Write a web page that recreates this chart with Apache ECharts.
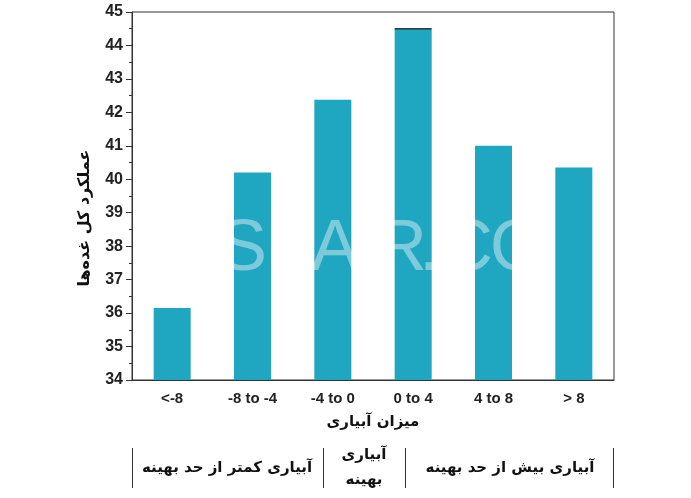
<!DOCTYPE html>
<html>
<head>
<meta charset="utf-8">
<script src="https://cdn.jsdelivr.net/npm/echarts@6/dist/echarts.min.js"></script>
<style>
  html, body { margin: 0; padding: 0; background: #fff; }
  #chart { width: 691px; height: 498px; }
</style>
</head>
<body>
<div id="chart"></div>
<script>
// data
var categories = ['<-8', '-8 to -4', '-4 to 0', '0 to 4', '4 to 8', '> 8'];
var yieldValues = [36.15, 40.2, 42.38, 44.5, 41.0, 40.35];
var groupLabels = ['آبیاری کمتر از حد بهینه', 'آبیاری\nبهینه', 'آبیاری بیش از حد بهینه'];
var capIndex = 3; // thin dark cap drawn on top of the tallest bar

var latin = 'Liberation Sans, Arial, sans-serif';
var persian = 'DejaVu Sans, Noto Sans, sans-serif';

var myChart = echarts.init(document.getElementById('chart'));

var wm = function (ch, x) {
  return {
    type: 'text', x: x, y: 250, z: 100,
    style: { text: ch, font: '72px Liberation Sans', fill: 'rgba(255,255,255,0.42)', textAlign: 'center', textVerticalAlign: 'middle' }
  };
};

var option = {
  animation: false,
  backgroundColor: '#fff',
  grid: {
    left: 132,
    right: 77,
    top: 12,
    bottom: 118,
    show: true,
    borderColor: '#333',
    borderWidth: 1
  },
  xAxis: {
    type: 'category',
    data: categories,
    name: 'میزان آبیاری',
    nameLocation: 'middle',
    nameGap: 35,
    nameTextStyle: { fontFamily: persian, fontWeight: 'bold', fontSize: 15, color: '#111' },
    axisLine: { lineStyle: { color: '#333' } },
    axisTick: { show: false },
    axisLabel: { margin: 11, fontFamily: latin, fontWeight: 'bold', fontSize: 15, color: '#222' }
  },
  yAxis: {
    type: 'value',
    min: 34,
    max: 45,
    interval: 1,
    axisLine: { show: true, lineStyle: { color: '#333' } },
    axisTick: { show: true, length: 6, lineStyle: { color: '#333' } },
    minorTick: { show: true, splitNumber: 2, length: 3, lineStyle: { color: '#333' } },
    splitLine: { show: false },
    axisLabel: { margin: 9, fontFamily: latin, fontWeight: 'bold', fontSize: 16, color: '#222' }
  },
  series: [
    {
      type: 'bar',
      data: yieldValues,
      barWidth: 37,
      itemStyle: { color: '#1fa6c0' }
    },
    {
      type: 'scatter',
      data: [[capIndex, yieldValues[capIndex]]],
      symbol: 'rect',
      symbolSize: [37, 1.5],
      itemStyle: { color: '#111' },
      z: 3
    }
  ],
  graphic: [
    // y axis title
    {
      type: 'text',
      x: 85, y: 218,
      rotation: Math.PI / 2,
      style: {
        text: 'عملکرد کل غده‌ها',
        fontFamily: persian, fontWeight: 'bold', fontSize: 16, fill: '#111',
        textAlign: 'center', textVerticalAlign: 'middle'
      }
    },
    // watermark
    wm('S', 243), wm('A', 335), wm('R', 401), wm('.', 429), wm('C', 467), wm('O', 518),
    // bottom group table
    { type: 'line', shape: { x1: 132.5, y1: 448, x2: 132.5, y2: 488 }, style: { stroke: '#333', lineWidth: 1 } },
    { type: 'line', shape: { x1: 323.5, y1: 448, x2: 323.5, y2: 488 }, style: { stroke: '#333', lineWidth: 1 } },
    { type: 'line', shape: { x1: 405.5, y1: 448, x2: 405.5, y2: 488 }, style: { stroke: '#333', lineWidth: 1 } },
    { type: 'line', shape: { x1: 613.5, y1: 448, x2: 613.5, y2: 488 }, style: { stroke: '#333', lineWidth: 1 } },
    { type: 'text', x: 227, y: 468, style: { text: groupLabels[0], fontFamily: persian, fontWeight: 'bold', fontSize: 15, fill: '#111', textAlign: 'center', textVerticalAlign: 'middle' } },
    { type: 'text', x: 364, y: 468, style: { text: groupLabels[1], fontFamily: persian, fontWeight: 'bold', fontSize: 15, lineHeight: 25, fill: '#111', textAlign: 'center', textVerticalAlign: 'middle' } },
    { type: 'text', x: 510, y: 468, style: { text: groupLabels[2], fontFamily: persian, fontWeight: 'bold', fontSize: 15, fill: '#111', textAlign: 'center', textVerticalAlign: 'middle' } }
  ]
};

myChart.setOption(option);
</script>
</body>
</html>
